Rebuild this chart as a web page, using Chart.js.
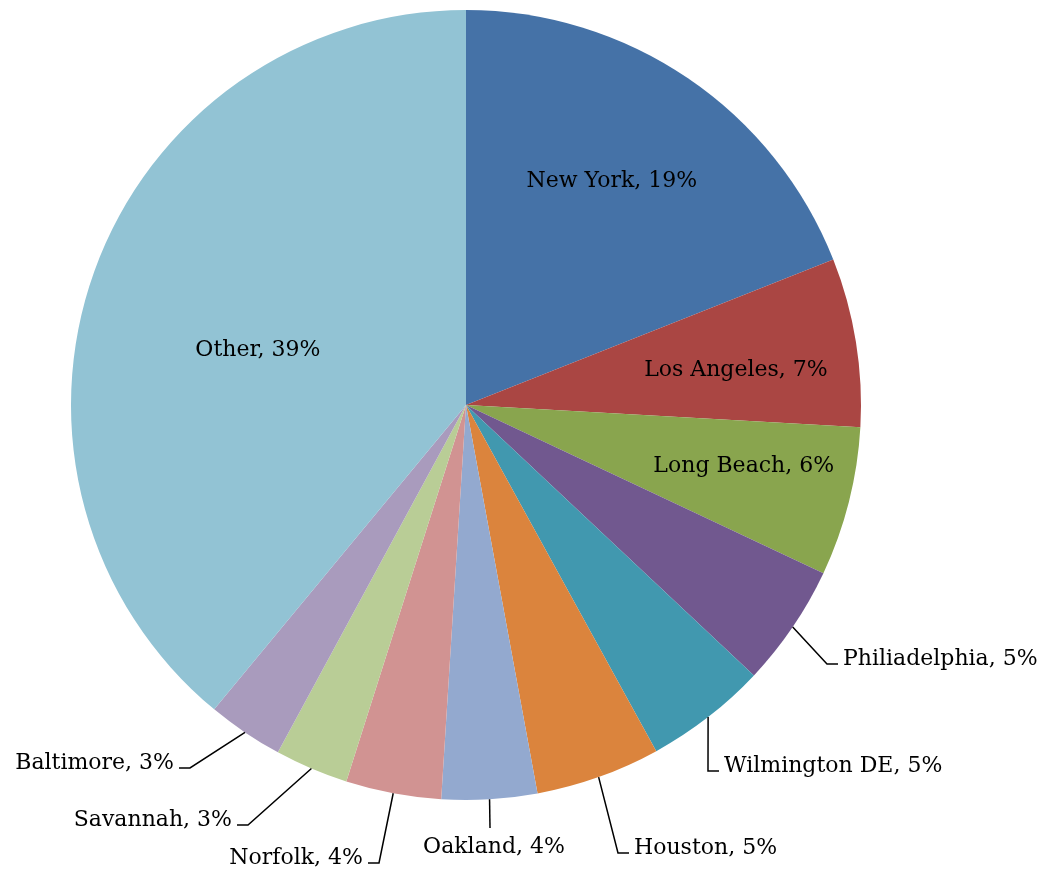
<!DOCTYPE html>
<html lang="en">
<head>
<meta charset="UTF-8" />
<title>Port share</title>
<script src="https://cdn.jsdelivr.net/npm/chart.js"></script>
<style>
  body { margin: 0; background: #fff; }
  #wrap { width: 1049px; height: 871px; }
</style>
</head>
<body>
<div id="wrap"><canvas id="pie" width="1049" height="871"></canvas></div>
<script>
  // ports and their share of traffic (%)
  const ports = ['New York', 'Los Angeles', 'Long Beach', 'Philiadelphia', 'Wilmington DE',
                 'Houston', 'Oakland', 'Norfolk', 'Savannah', 'Baltimore', 'Other'];
  const shares = [19, 6.9, 6.1, 5, 5, 5.1, 3.9, 3.9, 3, 3.1, 39];
  const colors = ['#4572A7', '#AA4643', '#89A54E', '#71588F', '#4198AF',
                  '#DB843D', '#93A9CF', '#D19392', '#B9CD96', '#A99BBD', '#92C3D4'];

  // label placement: inside labels sit at a fraction of the radius, turned a few
  // degrees off the mid angle; outside labels get a leader line to an elbow
  // (offset from centre, px at r=395)
  const labelPos = [
    { inside: 0.676, turn: -1.1 },
    { inside: 0.689, turn: 1.8 },
    { inside: 0.72, turn: -1.8 },
    { elbow: [361, 259], side: 'right' },
    { elbow: [242, 366], side: 'right' },
    { elbow: [152, 448], side: 'right' },
    { elbow: [24, 423], side: 'below' },
    { elbow: [-87, 458], side: 'left' },
    { elbow: [-218, 420], side: 'left' },
    { elbow: [-276, 363], side: 'left' },
    { inside: 0.545, turn: -5 }
  ];

  const FONT = '22px "DejaVu Serif", "Liberation Serif", serif';

  const sliceLabels = {
    id: 'sliceLabels',
    afterDatasetsDraw(chart) {
      const ctx = chart.ctx;
      const arcs = chart.getDatasetMeta(0).data;
      ctx.save();
      ctx.font = FONT;
      ctx.fillStyle = '#000';
      ctx.strokeStyle = '#000';
      ctx.lineWidth = 1.5;
      arcs.forEach((arc, i) => {
        const { x, y, startAngle, endAngle, outerRadius } = arc.getProps(['x', 'y', 'startAngle', 'endAngle', 'outerRadius'], true);
        const mid = (startAngle + endAngle) / 2;
        const text = ports[i] + ', ' + Math.round(shares[i]) + '%';
        const p = labelPos[i];
        if (p.inside) {
          const rr = outerRadius * p.inside;
          const a = mid + p.turn * Math.PI / 180;
          ctx.textAlign = 'center';
          ctx.textBaseline = 'middle';
          ctx.fillText(text, x + Math.cos(a) * rr, y + Math.sin(a) * rr);
          return;
        }
        const k = outerRadius / 395;
        const sx = x + Math.cos(mid) * outerRadius;
        const sy = y + Math.sin(mid) * outerRadius;
        const ex = x + p.elbow[0] * k;
        const ey = y + p.elbow[1] * k;
        ctx.beginPath();
        ctx.moveTo(sx, sy);
        ctx.lineTo(ex, ey);
        ctx.textBaseline = 'alphabetic';
        if (p.side === 'right') {
          ctx.lineTo(ex + 11, ey);
          ctx.stroke();
          ctx.textAlign = 'left';
          ctx.fillText(text, ex + 16, ey + 1);
        } else if (p.side === 'left') {
          ctx.lineTo(ex - 11, ey);
          ctx.stroke();
          ctx.textAlign = 'right';
          ctx.fillText(text, ex - 16, ey + 1);
        } else {
          ctx.stroke();
          ctx.textAlign = 'center';
          ctx.fillText(text, ex + 4, ey + 25);
        }
      });
      ctx.restore();
    }
  };

  new Chart(document.getElementById('pie'), {
    type: 'pie',
    data: {
      labels: ports,
      datasets: [{
        data: shares,
        backgroundColor: colors,
        borderWidth: 0,
        hoverOffset: 0
      }]
    },
    options: {
      responsive: false,
      animation: false,
      layout: { padding: { left: 71, right: 188, top: 10, bottom: 71 } },
      plugins: {
        legend: { display: false },
        tooltip: { enabled: false }
      }
    },
    plugins: [sliceLabels]
  });
</script>
</body>
</html>
